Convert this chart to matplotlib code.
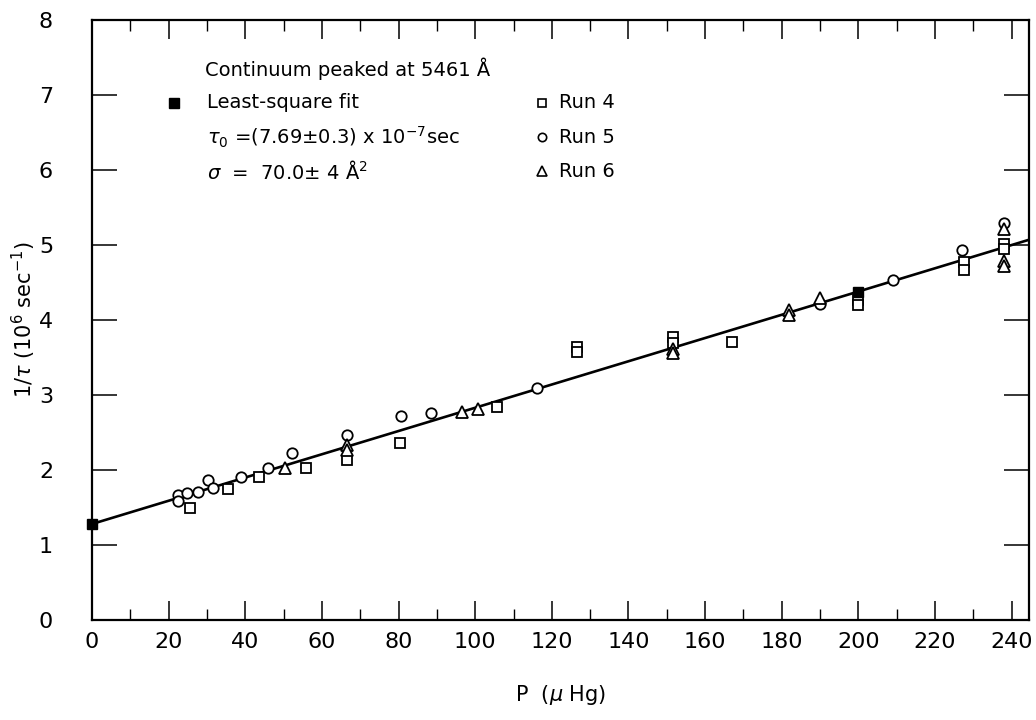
import numpy as np
import matplotlib
matplotlib.use("Agg")
import matplotlib.pyplot as plt
from matplotlib.ticker import MultipleLocator

# ---- data ----
run4_p = [25.7, 35.4, 43.5, 55.9, 66.5, 80.3, 105.6, 126.6, 126.6, 151.5, 151.5, 167.0,
          200.0, 200.0, 227.5, 227.5, 238.0, 238.0]
run4_rate = [1.49, 1.75, 1.91, 2.02, 2.13, 2.36, 2.84, 3.64, 3.58, 3.77, 3.69, 3.71,
             4.27, 4.20, 4.78, 4.67, 5.02, 4.95]

run5_p = [22.4, 22.4, 24.8, 27.6, 30.4, 31.7, 38.8, 46.0, 52.2, 66.5, 80.6, 88.4,
          116.2, 190.0, 209.0, 227.0, 238.0]
run5_rate = [1.67, 1.59, 1.69, 1.71, 1.86, 1.76, 1.90, 2.02, 2.22, 2.47, 2.72, 2.76,
             3.09, 4.22, 4.53, 4.94, 5.29]

run6_p = [50.4, 66.5, 66.5, 96.5, 100.6, 151.5, 151.5, 182.0, 182.0, 190.0, 238.0, 238.0, 238.0]
run6_rate = [2.02, 2.33, 2.26, 2.77, 2.81, 3.62, 3.56, 4.14, 4.07, 4.29, 5.22, 4.79, 4.72]

fit_p = [0.0, 200.0]
fit_rate = [1.28, 4.38]

x_ticks = list(range(0, 241, 20))
y_ticks = list(range(0, 9))

# ---- figure ----
fig = plt.figure(figsize=(10.36, 7.2), dpi=100)
ax = fig.add_axes([0.0888, 0.1389, 0.9044, 0.8333])

xmax = 244.5
ax.set_xlim(0, xmax)
ax.set_ylim(0, 8)

slope = (fit_rate[1] - fit_rate[0]) / (fit_p[1] - fit_p[0])
xl = np.array([0.0, xmax])
ax.plot(xl, fit_rate[0] + slope * (xl - fit_p[0]), color="black", lw=1.9, zorder=2)

ax.plot(run4_p, run4_rate, linestyle="none", marker="s", ms=7, mfc="white",
        mec="black", mew=1.3, zorder=3)
ax.plot(run5_p, run5_rate, linestyle="none", marker="o", ms=7.5, mfc="white",
        mec="black", mew=1.3, zorder=3)
ax.plot(run6_p, run6_rate, linestyle="none", marker="^", ms=9, mfc="white",
        mec="black", mew=1.3, zorder=3)
ax.plot(fit_p, fit_rate, linestyle="none", marker="s", ms=7.5, mfc="black",
        mec="black", zorder=4, clip_on=False)

for s in ax.spines.values():
    s.set_linewidth(1.6)

ax.xaxis.set_minor_locator(MultipleLocator(10))
ax.set_xticks(x_ticks)
ax.set_yticks(y_ticks)
ax.tick_params(axis="x", which="major", direction="in", length=14, width=1.1,
               top=True, labelsize=16, pad=9)
ax.tick_params(axis="x", which="minor", direction="in", length=8, width=1.0, top=True)
ax.tick_params(axis="y", which="major", direction="in", length=18, width=1.1,
               right=True, labelsize=16, pad=28)
ax.tick_params(axis="y", which="minor", left=False, right=False)

ax.set_xlabel(r"P  ($\mu$ Hg)", fontsize=15, labelpad=22)
ax.set_ylabel(r"1/$\tau$ (10$^6$ sec$^{-1}$)", fontsize=15)
ax.yaxis.set_label_coords(-0.058, 0.5)

# ---- legend / annotation block ----
fs = 14
ax.text(0.121, 0.918, "Continuum peaked at 5461 Å", transform=ax.transAxes,
        fontsize=fs, va="center", ha="left")
ax.plot([0.087], [0.862], transform=ax.transAxes, marker="s", ms=7.5, color="black",
        linestyle="none", clip_on=False)
ax.text(0.123, 0.862, "Least-square fit", transform=ax.transAxes,
        fontsize=fs, va="center", ha="left")
ax.text(0.123, 0.805, r"$\tau_0$ =(7.69$\pm$0.3) x 10$^{-7}$sec", transform=ax.transAxes,
        fontsize=fs, va="center", ha="left")
ax.text(0.123, 0.748, r"$\sigma$  =  70.0$\pm$ 4 Å$^2$", transform=ax.transAxes,
        fontsize=fs, va="center", ha="left")

leg_x = 0.480
ax.plot([leg_x], [0.862], transform=ax.transAxes, marker="s", ms=6, mfc="white",
        mec="black", mew=1.2, linestyle="none")
ax.plot([leg_x], [0.805], transform=ax.transAxes, marker="o", ms=6, mfc="white",
        mec="black", mew=1.2, linestyle="none")
ax.plot([leg_x], [0.748], transform=ax.transAxes, marker="^", ms=7.5, mfc="white",
        mec="black", mew=1.2, linestyle="none")
for yy, lab in zip([0.862, 0.805, 0.748], ["Run 4", "Run 5", "Run 6"]):
    ax.text(leg_x + 0.018, yy, lab, transform=ax.transAxes, fontsize=fs,
            va="center", ha="left")

fig.savefig("out.png", dpi=100)
